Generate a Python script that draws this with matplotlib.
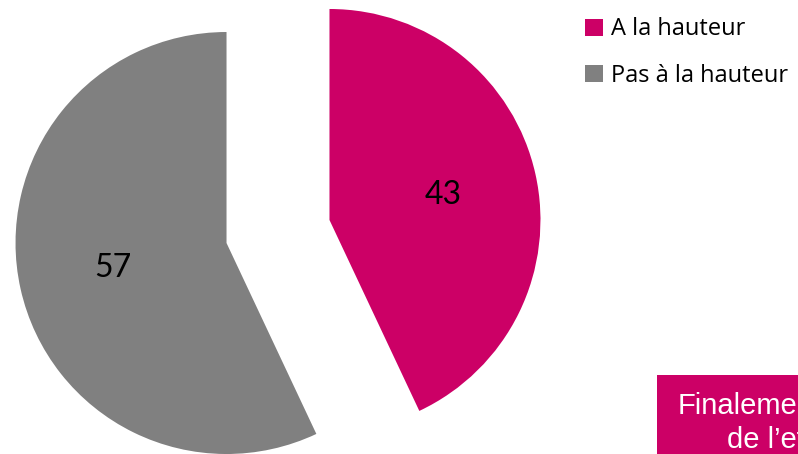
import matplotlib
matplotlib.use("Agg")
import matplotlib.pyplot as plt
from matplotlib.patches import Rectangle

categories = ["A la hauteur", "Pas à la hauteur"]
values = [43, 57]
colors = ["#CC0066", "#808080"]
box_lines = ["Finalement", "de l\u2019effort"]

W, H = 798, 454
R = 211.0
cx, cy = 278.0, 231.5

fig = plt.figure(figsize=(W / 100, H / 100), dpi=100)
ax = fig.add_axes([0, 0, 1, 1])

wedges, texts, autotexts = ax.pie(
    values, colors=colors, startangle=90, counterclock=False,
    explode=[0.25, 0.25], radius=1.0, autopct=lambda p: f"{p:.0f}",
    pctdistance=0.55, frame=True,
    textprops=dict(fontsize=23, family=["Lato", "DejaVu Sans"], color="black"),
    wedgeprops=dict(linewidth=0))
ax.set_xlim(-cx / R, (W - cx) / R)
ax.set_ylim(-(H - cy) / R, cy / R)
ax.set_aspect("auto")
ax.axis("off")

leg = fig.legend(wedges, categories, loc="upper left",
                 bbox_to_anchor=(576 / W, 1 - 8 / H), frameon=False,
                 prop=dict(family=["Open Sans", "DejaVu Sans"], size=17),
                 handlelength=0.75, handleheight=0.75, handletextpad=0.35,
                 labelspacing=0.95, borderaxespad=0)

# magenta text box at bottom right (clipped by figure edge)
fig.patches.append(Rectangle((657 / W, 0), (W - 657) / W, (H - 375) / H,
                             transform=fig.transFigure, facecolor="#CC0066",
                             edgecolor="none", zorder=0))
fig.text(678 / W, 1 - 414 / H, box_lines[0], color="white", fontsize=21,
         family=["Liberation Sans", "DejaVu Sans"], ha="left", va="baseline")
fig.text(727 / W, 1 - 448 / H, box_lines[1], color="white", fontsize=21,
         family=["Liberation Sans", "DejaVu Sans"], ha="left", va="baseline")

fig.savefig("out.png", dpi=100)
